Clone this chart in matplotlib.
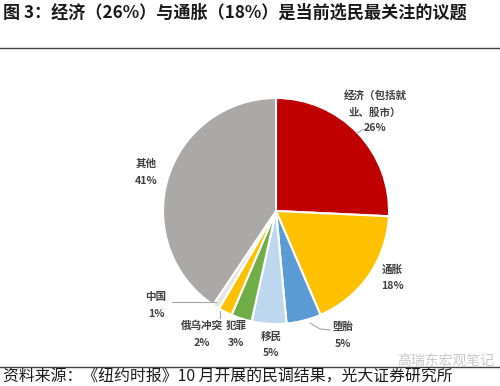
import matplotlib
matplotlib.use("Agg")
import matplotlib.pyplot as plt

plt.rcParams['font.family'] = ['Noto Sans CJK SC', 'DejaVu Sans']

categories = ['经济（包括就\n业、股市）', '通胀', '堕胎', '移民', '犯罪', '俄乌冲突', '中国', '其他']
values = [26, 18, 5, 5, 3, 2, 1, 41]
pct_labels = ['26%', '18%', '5%', '5%', '3%', '2%', '1%', '41%']
colors = ['#C00000', '#FFC000', '#5B9BD5', '#BDD7EE', '#70AD47', '#FFC000', '#E7E6E6', '#ABA8A8']

title = '图 3：经济（26%）与通胀（18%）是当前选民最关注的议题'
source = '资料来源：《纽约时报》10 月开展的民调结果，光大证券研究所'
watermark = '高瑞东宏观笔记'

W, H = 500, 386
fig = plt.figure(figsize=(W / 100, H / 100), dpi=100)
ax = fig.add_axes([0, 0, 1, 1])

cx, cy, r = 276, H - 211, 113
ax.pie(values, colors=colors, startangle=90, counterclock=False,
       center=(cx, cy), radius=r,
       wedgeprops=dict(edgecolor='white', linewidth=1.5))
ax.set_xlim(0, W)
ax.set_ylim(0, H)
ax.set_aspect('equal')
ax.axis('off')

def py(y):
    return H - y

# label layout (pixel positions of name / percentage centres)
label_pos = [(375, 104, 128), (392, 270, 286), (343, 327, 344), (271, 337, 353),
             (236, 326, 343), (202, 326, 343), (156, 297, 314), (146, 164, 181)]
lbl_color = '#404040'
for cat, pct, (x, yn, yp) in zip(categories, pct_labels, label_pos):
    ax.text(x, py(yn), cat, ha='center', va='center', fontsize=7.6,
            color=lbl_color, fontweight='bold', linespacing=1.75)
    ax.text(x, py(yp), pct, ha='center', va='center', fontsize=7.6,
            color=lbl_color, fontweight='bold')

# leader lines
lc = '#A6A6A6'
leaders = [[(357, 133), (362, 130), (366, 129)],
           [(310, 323), (320, 329), (330, 330)],
           [(216, 302), (172, 302)],
           [(220, 311), (220, 318)]]
for pts in leaders:
    xs = [p[0] for p in pts]
    ys = [py(p[1]) for p in pts]
    ax.plot(xs, ys, color=lc, lw=0.8)

# title and rules
ax.text(3, py(13), title, ha='left', va='center', fontsize=12.3, fontweight='bold', color='#1a1a1a')
ax.plot([0, W], [py(48), py(48)], color='#404040', lw=1.0)
ax.plot([0, W], [py(367), py(367)], color='#404040', lw=1.0)
ax.text(3, py(377), source, ha='left', va='center', fontsize=11.4, color='#1a1a1a')
ax.text(494, py(361), watermark, ha='right', va='center', fontsize=10, color='#C8C8C8')

fig.savefig('out.png', dpi=100)
